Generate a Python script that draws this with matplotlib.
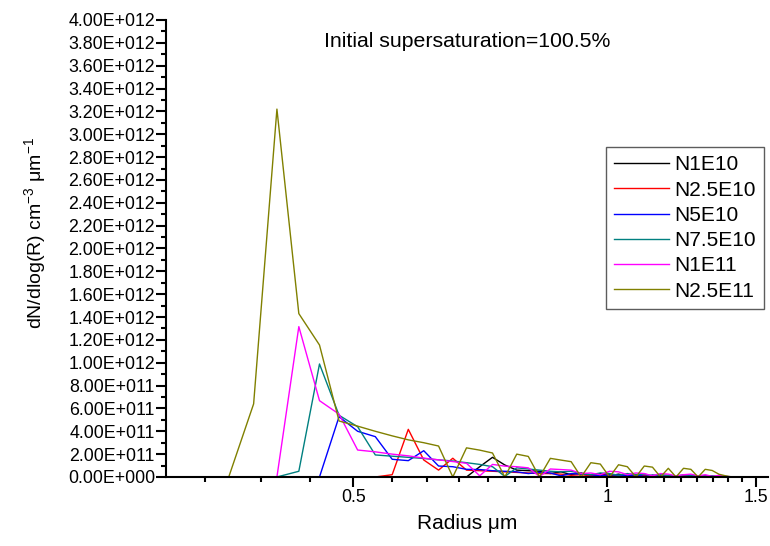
import numpy as np
import matplotlib
matplotlib.use("Agg")
import matplotlib.pyplot as plt
from matplotlib.ticker import FixedLocator, FuncFormatter, MultipleLocator, NullFormatter

plt.rcParams['font.family'] = ['Liberation Sans', 'DejaVu Sans']
plt.rcParams['mathtext.fontset'] = 'custom'
plt.rcParams['mathtext.rm'] = 'Liberation Sans'

# radius grid (um)
radius = [0.281, 0.306, 0.331, 0.356, 0.381, 0.406, 0.431, 0.456, 0.481, 0.506,
          0.531, 0.556, 0.581, 0.606, 0.631, 0.656, 0.681, 0.706, 0.731, 0.756,
          0.781, 0.806, 0.831, 0.856, 0.881, 0.906, 0.931, 0.956, 0.981, 1.006,
          1.031, 1.056, 1.081, 1.106, 1.131, 1.156, 1.181, 1.206, 1.231, 1.256,
          1.281, 1.306, 1.331, 1.356, 1.381, 1.406]

# dN/dlog(R), in units of 1e11 cm^-3 um^-1
n1e10 = [0, 0, 0, 0, 0, 0, 0, 0, 0, 0,
         0, 0, 0, 0, 0, 0, 0, 0.9, 1.72, 1.05,
         0.6, 0.55, 0.5, 0.3, 0.45, 0.2, 0.35, 0.15, 0.3, 0.1,
         0.25, 0.1, 0.2, 0.05, 0.15, 0.1, 0.05, 0.1, 0.05, 0.1,
         0.05, 0.05, 0.03, 0.02, 0.02, 0]
n25e10 = [0, 0, 0, 0, 0, 0, 0, 0, 0, 0,
          0, 0.2, 4.17, 1.49, 0.6, 1.64, 0.6, 0.55, 0.5, 0.45,
          0.4, 0.35, 0.3, 0.3, 0.25, 0.15, 0.2, 0.1, 0.15, 0.2,
          0.1, 0.05, 0.1, 0.15, 0.1, 0.05, 0.1, 0.05, 0.1, 0.05,
          0.1, 0.05, 0.05, 0.02, 0.02, 0]
n5e10 = [0, 0, 0, 0, 0, 0, 0, 0, 5.28, 4.0,
         3.53, 1.55, 1.43, 2.3, 0.96, 0.9, 0.67, 0.65, 0.55, 0.5,
         0.45, 0.3, 0.4, 0.35, 0.1, 0.3, 0.25, 0.2, 0.1, 0.2,
         0.15, 0.1, 0.2, 0.05, 0.15, 0.1, 0.05, 0.1, 0.05, 0.1,
         0.05, 0.05, 0.05, 0.03, 0.02, 0]
n75e10 = [0, 0, 0, 0, 0, 0, 0.5, 9.89, 5.4, 4.4,
          1.93, 1.82, 1.72, 1.62, 1.5, 1.4, 1.25, 1.1, 0.9, 0.05,
          0.8, 0.7, 0.6, 0.5, 0.45, 0.5, 0.3, 0.2, 0.35, 0.3,
          0.15, 0.3, 0.2, 0.25, 0.1, 0.2, 0.15, 0.05, 0.2, 0.15,
          0.1, 0.1, 0.1, 0.05, 0.05, 0]
n1e11 = [0, 0, 0, 0, 0, 0, 13.16, 6.68, 5.5, 2.36,
         2.2, 2.0, 1.85, 1.65, 1.5, 1.35, 1.2, 0.1, 1.1, 0.95,
         0.9, 0.8, 0.05, 0.7, 0.65, 0.6, 0.3, 0.35, 0.2, 0.5,
         0.45, 0.2, 0.35, 0.3, 0.1, 0.3, 0.25, 0.1, 0.2, 0.25,
         0.1, 0.2, 0.05, 0.15, 0.05, 0]
n25e11 = [0, 0, 0, 0, 6.4, 32.2, 14.3, 11.55, 4.9, 4.45,
          4.0, 3.6, 3.25, 3.0, 2.71, 0, 2.55, 2.35, 2.1, 0,
          2.0, 1.8, 0, 1.63, 1.48, 1.34, 0, 1.25, 1.13, 0,
          1.07, 0.9, 0, 0.96, 0.86, 0, 0.76, 0, 0.76, 0.67,
          0, 0.67, 0.57, 0.24, 0.1, 0]

labels = ["N1E10", "N2.5E10", "N5E10", "N7.5E10", "N1E11", "N2.5E11"]
series = [n1e10, n25e10, n5e10, n75e10, n1e11, n25e11]
colors = ["#000000", "#ff0000", "#0000ff", "#008080", "#ff00ff", "#808000"]
unit = 1e11


def sci(v, pos):
    if abs(v) < 1:
        return "0.00E+000"
    e = int(np.floor(np.log10(abs(v)) + 1e-9))
    return f"{v / 10**e:.2f}E{e:+04d}"


fig = plt.figure(figsize=(7.7, 5.46), dpi=100)
ax = fig.add_axes([0.2156, 0.1264, 0.7818, 0.837])

r = np.array(radius)
for lab, s, c in zip(labels, series, colors):
    ax.plot(r, np.array(s) * unit, color=c, lw=1.0, label=lab)

ax.set_xscale('log')
ax.set_xlim(0.3, 1.55)
ax.set_ylim(0, 4e12)

ax.xaxis.set_major_locator(FixedLocator([0.5, 1.0, 1.5]))
ax.xaxis.set_major_formatter(FuncFormatter(lambda v, p: f"{v:g}"))
minor = [0.5 - k / 18 for k in range(1, 4)] + [0.5 + k / 18 for k in range(1, 9)] \
    + [1.0 + k / 18 for k in range(1, 9)]
ax.xaxis.set_minor_locator(FixedLocator(minor))
ax.xaxis.set_minor_formatter(NullFormatter())

ax.yaxis.set_major_locator(MultipleLocator(2e11))
ax.yaxis.set_minor_locator(MultipleLocator(1e11))
ax.yaxis.set_major_formatter(FuncFormatter(sci))

for side in ['top', 'right']:
    ax.spines[side].set_visible(False)
for side in ['left', 'bottom']:
    ax.spines[side].set_linewidth(1.5)
ax.tick_params(which='major', length=7, width=1.5, labelsize=12.8, direction='out')
ax.tick_params(which='minor', length=3.5, width=1.5, direction='out')
ax.tick_params(axis='x', pad=2)
ax.tick_params(axis='y', pad=1)

ax.set_xlabel("Radius \u03bcm", fontsize=15)
ax.xaxis.set_label_coords(0.5, -0.08)
ax.set_ylabel("dN/dlog(R) cm$^{-3}$ \u03bcm$^{-1}$", fontsize=14)
ax.yaxis.set_label_coords(-0.195, 0.534)

ax.text(0.5, 0.952, "Initial supersaturation=100.5%", transform=ax.transAxes,
        ha='center', va='center', fontsize=15.3)

leg = ax.legend(loc='upper right', bbox_to_anchor=(0.993, 0.722), borderaxespad=0,
                fontsize=15, frameon=True, fancybox=False, handlelength=2.6,
                handletextpad=0.25, labelspacing=0.3, borderpad=0.4)
leg.get_frame().set_edgecolor('#333333')
leg.get_frame().set_linewidth(1.0)

fig.savefig("out.png", dpi=100)
